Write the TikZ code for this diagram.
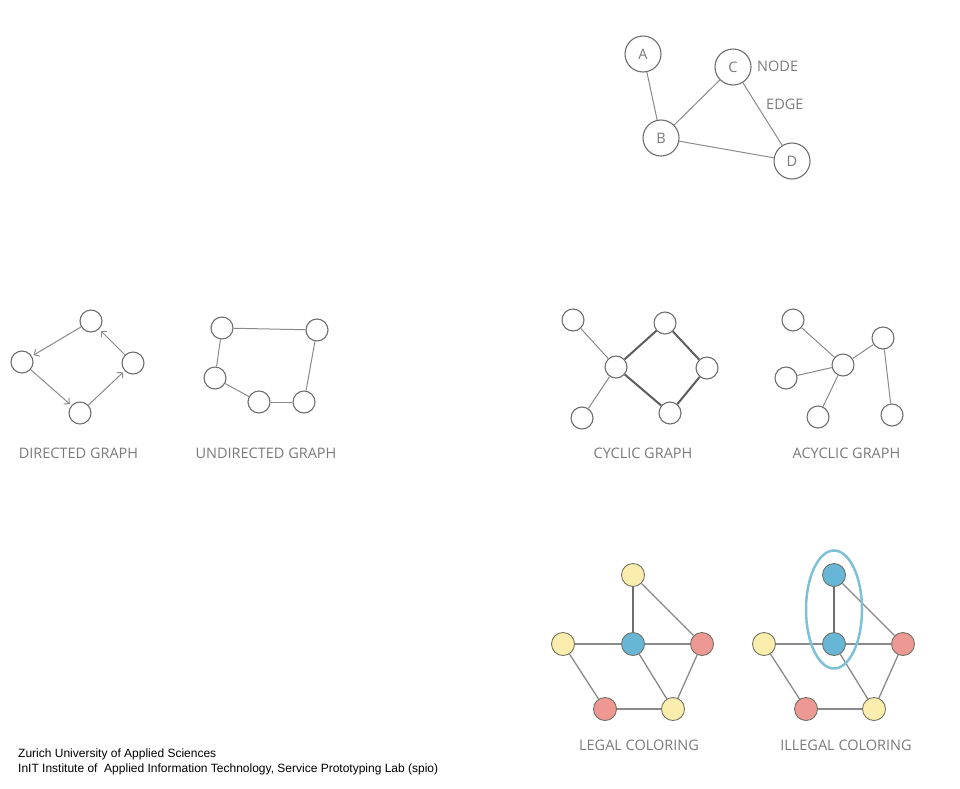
\documentclass[tikz,border=0pt]{standalone}
\usepackage{fontspec}
\setmainfont{Open Sans}
\newfontfamily\footfont{Liberation Sans}
\usetikzlibrary{calc,arrows.meta}
\definecolor{linegrey}{HTML}{8A8A8A}
\definecolor{ringgrey}{HTML}{6E6E6E}
\definecolor{textgrey}{HTML}{7A7A7A}
\definecolor{colyellow}{HTML}{FBEDAE}
\definecolor{colred}{HTML}{EE9894}
\definecolor{colblue}{HTML}{68B6D6}
\definecolor{halocol}{HTML}{7DC0D8}
\begin{document}
\begin{tikzpicture}[x=1pt,y=-1pt,
    vertex/.style={circle,draw=ringgrey,line width=1.1pt,fill=white,minimum size=22pt,inner sep=0pt},
    bigvertex/.style={vertex,minimum size=36pt,text=textgrey,font=\fontsize{14.5}{14.5}\selectfont},
    colvertex/.style={vertex,draw=ringgrey!90!olive,line width=0.9pt,minimum size=23pt},
    edge/.style={draw=linegrey,line width=1pt},
    cycleedge/.style={draw=ringgrey!85!black,line width=2pt},
    coledge/.style={draw=linegrey,line width=1.3pt},
    arrowedge/.style={edge,->,>={Straight Barb[length=4pt,width=8pt]},shorten >=2pt},
    caption/.style={text=textgrey,inner sep=0pt,font=\fontsize{14.5}{14.5}\selectfont},
    halo/.style={draw=halocol,line width=2.5pt},
    footer/.style={inner sep=0pt,font=\footfont\fontsize{12}{14}\selectfont}]
    \useasboundingbox (0,0) rectangle (960,788);
    % nodes and edges
    \node[bigvertex] (A) at (643,54) {A};
    \node[bigvertex] (C) at (733,67) {C};
    \node[bigvertex] (B) at (661,138) {B};
    \node[bigvertex] (D) at (792,161) {D};
    \draw[edge] (A) -- (B);
    \draw[edge] (B) -- (C);
    \draw[edge] (C) -- (D);
    \draw[edge] (B) -- (D);
    \node[caption,anchor=west] (nodelbl) at (757,66) {NODE};
    \node[caption,anchor=west] (edgelbl) at (766,104) {EDGE};
    % directed
    \node[vertex] (d1) at (91,321) {};
    \node[vertex] (d2) at (22,362) {};
    \node[vertex] (d3) at (80,413) {};
    \node[vertex] (d4) at (133,363) {};
    \draw[arrowedge] (d1) -- (d2);
    \draw[arrowedge] (d2) -- (d3);
    \draw[arrowedge] (d3) -- (d4);
    \draw[arrowedge] (d4) -- (d1);
    \node[caption,anchor=base] (dirlbl) at (78.5,458) {DIRECTED GRAPH};
    % undirected
    \node[vertex] (u1) at (222,328) {};
    \node[vertex] (u2) at (317,330) {};
    \node[vertex] (u3) at (215,378) {};
    \node[vertex] (u4) at (259,402) {};
    \node[vertex] (u5) at (304,402) {};
    \draw[edge] (u1) -- (u2);
    \draw[edge] (u1) -- (u3);
    \draw[edge] (u3) -- (u4);
    \draw[edge] (u4) -- (u5);
    \draw[edge] (u5) -- (u2);
    \node[caption,anchor=base] (undirlbl) at (266,458) {UNDIRECTED GRAPH};
    % cyclic
    \node[vertex] (c1) at (573,320) {};
    \node[vertex] (c2) at (616,367) {};
    \node[vertex] (c3) at (665,323) {};
    \node[vertex] (c4) at (707,368) {};
    \node[vertex] (c5) at (670,413) {};
    \node[vertex] (c6) at (582,418) {};
    \draw[edge] (c1) -- (c2);
    \draw[edge] (c2) -- (c6);
    \draw[cycleedge] (c2) -- (c3) -- (c4) -- (c5) -- (c2);
    \node[caption,anchor=base] (cyclbl) at (643,458) {CYCLIC GRAPH};
    % acyclic
    \node[vertex] (a1) at (793,320) {};
    \node[vertex] (a2) at (843,365) {};
    \node[vertex] (a3) at (786,378) {};
    \node[vertex] (a4) at (883,338) {};
    \node[vertex] (a5) at (818,417) {};
    \node[vertex] (a6) at (892,415) {};
    \draw[edge] (a2) -- (a1);
    \draw[edge] (a2) -- (a3);
    \draw[edge] (a2) -- (a5);
    \draw[edge] (a2) -- (a4);
    \draw[edge] (a4) -- (a6);
    \node[caption,anchor=base] (acyclbl) at (846.5,458) {ACYCLIC GRAPH};
    % colorings
    \foreach \g/\dx/\tc in {l/0/colyellow,i/201/colblue} {
    \begin{scope}[xshift=\dx pt]
    \node[colvertex,fill=\tc] (\g1) at (633,575) {};
    \node[colvertex,fill=colyellow] (\g2) at (563,644) {};
    \node[colvertex,fill=colblue] (\g3) at (633,644) {};
    \node[colvertex,fill=colred] (\g4) at (702,644) {};
    \node[colvertex,fill=colred] (\g5) at (605,709) {};
    \node[colvertex,fill=colyellow] (\g6) at (673,709) {};
    \draw[coledge,draw=ringgrey] (\g1) -- (\g3);
    \draw[coledge] (\g1) -- (\g4);
    \draw[coledge] (\g2) -- (\g3);
    \draw[coledge] (\g3) -- (\g4);
    \draw[coledge] (\g2) -- (\g5);
    \draw[coledge] (\g3) -- (\g6);
    \draw[coledge] (\g4) -- (\g6);
    \draw[coledge] (\g5) -- (\g6);
    \end{scope}
    }
    \draw[halo] ($(i1)!.5!(i3)$) ellipse (28pt and 59pt);
    \node[caption,anchor=base] (legallbl) at (639,750) {LEGAL COLORING};
    \node[caption,anchor=base] (illegallbl) at (846,750) {ILLEGAL COLORING};
    % footer
    \node[footer,anchor=base west] (uni) at (18,757) {Zurich University of Applied Sciences};
    \node[footer,anchor=base west] (lab) at (18,772) {InIT Institute of\ \ Applied Information Technology, Service Prototyping Lab (spio)};
\end{tikzpicture}
\end{document}
